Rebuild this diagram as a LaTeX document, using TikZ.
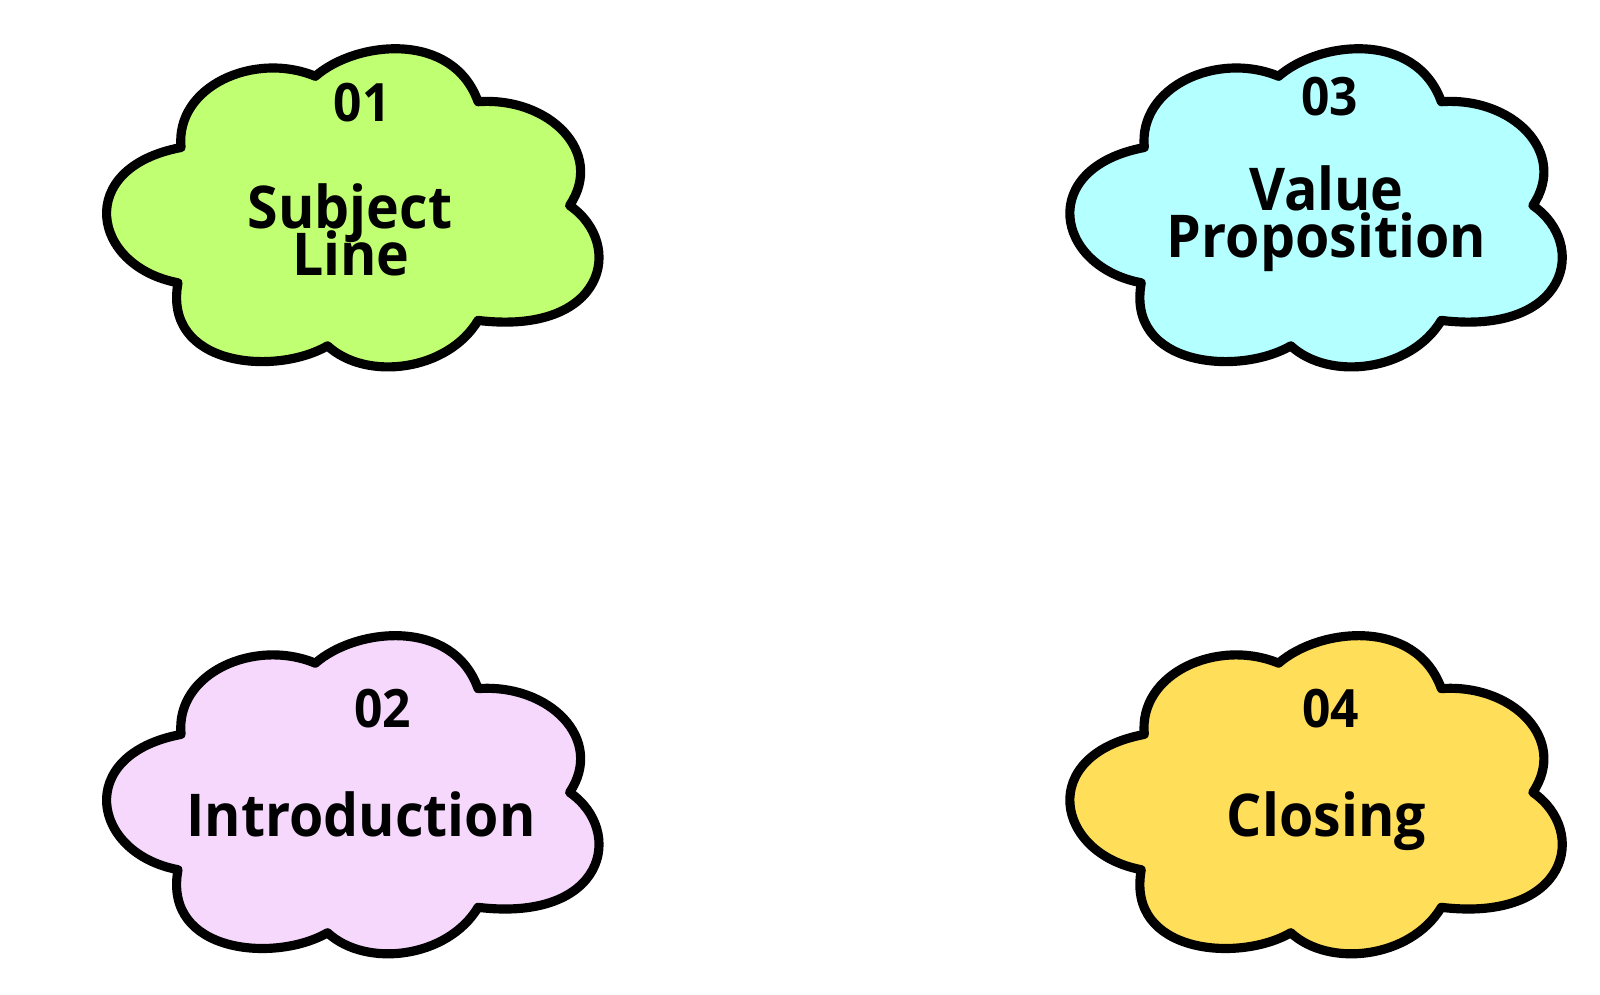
\documentclass[tikz,border=0pt]{standalone}
\usepackage{fontspec}
\setmainfont{Open Sans}[FakeStretch=0.94]
\definecolor{cgreen}{HTML}{C1FF72}
\definecolor{ccyan}{HTML}{B4FFFF}
\definecolor{cpink}{HTML}{F6D8FC}
\definecolor{cyellow}{HTML}{FFDE59}
\begin{document}
\begin{tikzpicture}[x=1pt,y=-1pt,
  cloudline/.style={line width=9pt, draw=black, line join=round},
  numtext/.style={font=\fontsize{52}{52}\selectfont\bfseries, anchor=base, inner sep=0pt},
  titletext/.style={font=\fontsize{58}{58}\selectfont\bfseries, anchor=base, inner sep=0pt},
  pics/cloudshape/.style={code={
    \path[cloudline, fill=#1] (178,145)
      .. controls (172,85) and (250,50) .. (310,75)
      .. controls (350,40) and (445,30) .. (470,100)
      .. controls (540,95) and (595,150) .. (560,202)
      .. controls (615,240) and (595,330) .. (470,315)
      .. controls (440,365) and (360,375) .. (322,340)
      .. controls (270,370) and (160,360) .. (175,278)
      .. controls (90,262) and (72,165) .. (178,145) -- cycle;
  }}
]
\useasboundingbox[fill=white] (0,0) rectangle (1573,978);
\pic (cloudA) at (0,0) {cloudshape=cgreen};
\pic (cloudC) at (947,0) {cloudshape=ccyan};
\pic (cloudB) at (0,577) {cloudshape=cpink};
\pic (cloudD) at (947,577) {cloudshape=cyellow};

\node[numtext] (numA) at (356,119) {01};
\node[titletext] (titA1) at (344,225) {Subject};
\node[titletext] (titA2) at (345,271) {Line};

\node[numtext] (numC) at (1307,114) {03};
\node[titletext] (titC1) at (1304,207) {Value};
\node[titletext] (titC2) at (1304,253) {Proposition};

\node[numtext] (numB) at (376,715) {02};
\node[titletext] (titB) at (355,822) {Introduction};

\node[numtext] (numD) at (1308,715) {04};
\node[titletext] (titD) at (1304,822) {Closing};
\end{tikzpicture}
\end{document}
